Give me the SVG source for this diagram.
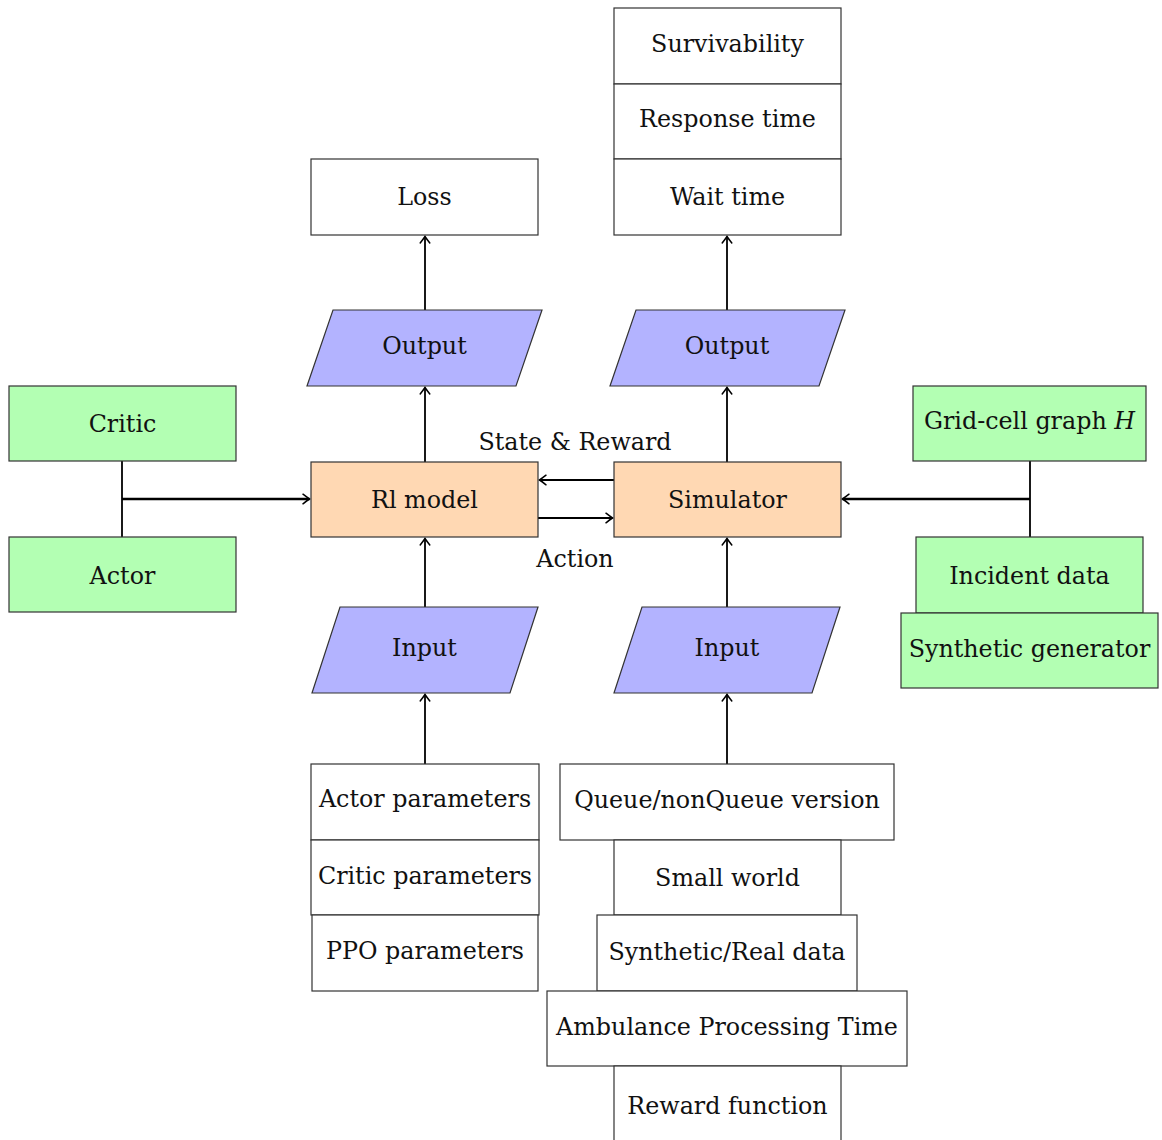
<svg xmlns="http://www.w3.org/2000/svg" width="1162" height="1140" viewBox="0 0 1162 1140">
  <style>
    .box { stroke: #333; stroke-width: 1.2; }
    .plain { fill: #ffffff; }
    .green { fill: #b3ffb3; }
    .blue { fill: #b3b3ff; }
    .orange { fill: #ffd8b3; }
    text { font-family: "DejaVu Serif", "Liberation Serif", serif; font-size: 23.8px; fill: #111; text-anchor: middle; }
    .conn { stroke: #000; stroke-width: 1.8; fill: none; }
    .bus { stroke: #000; stroke-width: 2.6; fill: none; }
  </style>
  <defs>
    <marker id="arrow" viewBox="-8 -6 10 12" refX="0" refY="0" markerWidth="10" markerHeight="12" markerUnits="userSpaceOnUse" orient="auto">
      <path d="M-6.5,-4.8 Q-2,-1.3 0,0 Q-2,1.3 -6.5,4.8" fill="none" stroke="#000" stroke-width="1.5" stroke-linecap="round"/>
    </marker>
  </defs>

  <rect width="1162" height="1140" fill="#ffffff"/>

  <!-- connectors -->
  <g id="connectors">
    <path class="conn" d="M425,310 V236.5" marker-end="url(#arrow)"/>
    <path class="conn" d="M425,462 V387.5" marker-end="url(#arrow)"/>
    <path class="conn" d="M425,607 V538.5" marker-end="url(#arrow)"/>
    <path class="conn" d="M425,764 V694.5" marker-end="url(#arrow)"/>
    <path class="conn" d="M727,310 V236.5" marker-end="url(#arrow)"/>
    <path class="conn" d="M727,462 V387.5" marker-end="url(#arrow)"/>
    <path class="conn" d="M727,607 V538.5" marker-end="url(#arrow)"/>
    <path class="conn" d="M727,764 V694.5" marker-end="url(#arrow)"/>
    <path class="conn" d="M614,480 H539.5" marker-end="url(#arrow)"/>
    <path class="conn" d="M538,518 H612.5" marker-end="url(#arrow)"/>
    <path class="conn" d="M122,461 V537"/>
    <path class="bus" d="M122,499 H309.5" marker-end="url(#arrow)"/>
    <path class="conn" d="M1030,461 V537"/>
    <path class="bus" d="M1030,499 H842.5" marker-end="url(#arrow)"/>
    <text x="575" y="450">State &amp; Reward</text>
    <text x="575" y="567">Action</text>
  </g>

  <!-- learning side -->
  <g id="loss"><rect class="box plain" x="311" y="159" width="227" height="76"/><text x="424.5" y="205">Loss</text></g>
  <g id="output-rl"><polygon class="box blue" points="333,310 542,310 516,386 307,386"/><text x="424.5" y="354">Output</text></g>
  <g id="rl-model"><rect class="box orange" x="311" y="462" width="227" height="75"/><text x="424.5" y="508">Rl model</text></g>
  <g id="input-rl"><polygon class="box blue" points="340,607 538,607 510,693 312,693"/><text x="424.5" y="656">Input</text></g>
  <g id="actor-parameters"><rect class="box plain" x="311" y="764" width="228" height="76"/><text x="425" y="807">Actor parameters</text></g>
  <g id="critic-parameters"><rect class="box plain" x="311" y="840" width="228" height="75"/><text x="425" y="884">Critic parameters</text></g>
  <g id="ppo-parameters"><rect class="box plain" x="312" y="915" width="226" height="76"/><text x="425" y="959">PPO parameters</text></g>
  <g id="critic"><rect class="box green" x="9" y="386" width="227" height="75"/><text x="122.5" y="432">Critic</text></g>
  <g id="actor"><rect class="box green" x="9" y="537" width="227" height="75"/><text x="122.5" y="584">Actor</text></g>

  <!-- simulation side -->
  <g id="survivability"><rect class="box plain" x="614" y="8" width="227" height="76"/><text x="727.5" y="52">Survivability</text></g>
  <g id="response-time"><rect class="box plain" x="614" y="84" width="227" height="75"/><text x="727.5" y="127">Response time</text></g>
  <g id="wait-time"><rect class="box plain" x="614" y="159" width="227" height="76"/><text x="727.5" y="205">Wait time</text></g>
  <g id="output-sim"><polygon class="box blue" points="636,310 845,310 819,386 610,386"/><text x="727" y="354">Output</text></g>
  <g id="simulator"><rect class="box orange" x="614" y="462" width="227" height="75"/><text x="727.5" y="508">Simulator</text></g>
  <g id="input-sim"><polygon class="box blue" points="642,607 840,607 812,693 614,693"/><text x="727" y="656">Input</text></g>
  <g id="grid-cell-graph"><rect class="box green" x="913" y="386" width="233" height="75"/><text x="1029.5" y="429">Grid-cell graph <tspan font-style="italic">H</tspan></text></g>
  <g id="incident-data"><rect class="box green" x="916" y="537" width="227" height="76"/><text x="1029.5" y="584">Incident data</text></g>
  <g id="synthetic-generator"><rect class="box green" x="901" y="613" width="257" height="75"/><text x="1029.5" y="657">Synthetic generator</text></g>
  <g id="queue-version"><rect class="box plain" x="560" y="764" width="334" height="76"/><text x="727" y="808">Queue/nonQueue version</text></g>
  <g id="small-world"><rect class="box plain" x="614" y="840" width="227" height="75"/><text x="727.5" y="886">Small world</text></g>
  <g id="synthetic-real-data"><rect class="box plain" x="597" y="915" width="260" height="76"/><text x="727" y="960">Synthetic/Real data</text></g>
  <g id="ambulance-processing-time"><rect class="box plain" x="547" y="991" width="360" height="75"/><text x="727" y="1035">Ambulance Processing Time</text></g>
  <g id="reward-function"><rect class="box plain" x="614" y="1066" width="227" height="80"/><text x="727.5" y="1114">Reward function</text></g>
</svg>
